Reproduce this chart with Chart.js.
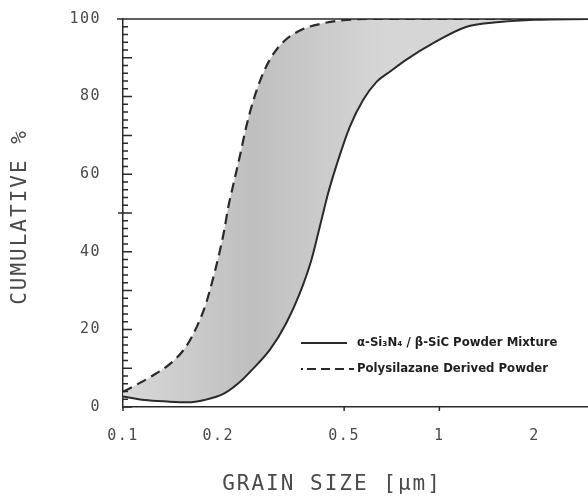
<!DOCTYPE html>
<html>
<head>
<meta charset="utf-8">
<script src="https://cdn.jsdelivr.net/npm/chart.js@4.4.1/dist/chart.umd.min.js"></script>
<style>
  body { margin: 0; background: #fff; }
  #wrap { width: 588px; height: 499px; }
</style>
</head>
<body>
<div id="wrap"><canvas id="grainChart" width="588" height="499"></canvas></div>
<script>
// grain size [um] and cumulative %
var dashX = [0.1, 0.1224, 0.1417, 0.158, 0.172, 0.183, 0.192, 0.201, 0.209, 0.215, 0.223, 0.234, 0.245, 0.258, 0.274, 0.294, 0.324, 0.371, 0.429, 0.484, 0.6, 1, 2, 2.95];
var dashY = [3.9, 7.8, 11.3, 15.5, 21.1, 26.7, 32.7, 39.2, 45.6, 51.4, 57.2, 64.6, 72.1, 78.9, 85.0, 90.1, 94.4, 97.4, 98.9, 99.6, 100, 100, 100, 100];
var solidX = [0.1, 0.117, 0.138, 0.16, 0.181, 0.209, 0.236, 0.251, 0.291, 0.328, 0.362, 0.394, 0.419, 0.445, 0.479, 0.521, 0.574, 0.633, 0.697, 0.789, 0.953, 1.22, 1.55, 2.0, 2.95];
var solidY = [2.7, 1.8, 1.4, 1.2, 1.8, 3.5, 6.7, 8.9, 14.7, 21.6, 29.3, 37.9, 46.5, 55.1, 63.7, 72.2, 79.1, 83.8, 86.4, 89.6, 93.7, 98, 99.2, 99.8, 100];
var xTicks = [0.1, 0.2, 0.5, 1, 2];
var xTickLabels = ["0.1", "0.2", "0.5", "1", "2"];
var yTicks = [0, 20, 40, 60, 80, 100];
var seriesNames = ["Polysilazane Derived Powder", "\u03b1-Si\u2083N\u2084 / \u03b2-SiC Powder Mixture"];

function toPoints(xs, ys) {
    return xs.map(function (x, i) { return { x: x, y: ys[i] }; });
}

var ink = "#2a2a2a";
var textGray = "#4a4a4a";

// plotter style ticks, frame, axis titles and the legend
var framePlugin = {
    id: 'frame',
    beforeDraw: function (chart) {
        chart.ctx.save();
        chart.ctx.letterSpacing = "1.5px";
    },
    afterDraw: function (chart) {
        var ctx = chart.ctx;
        var a = chart.chartArea;
        var ys = chart.scales.y, xs = chart.scales.x;
        ctx.restore();
        ctx.save();
        ctx.strokeStyle = ink;
        ctx.lineWidth = 1.5;
        ctx.beginPath();
        ctx.moveTo(a.left - 6, a.top);
        ctx.lineTo(a.right, a.top);
        for (var v = 0; v <= 100; v += 2) {
            var py = ys.getPixelForValue(v);
            var len = (v % 10 === 0) ? 9 : 5;
            ctx.moveTo(v === 50 ? a.left - 5 : a.left, py);
            ctx.lineTo(a.left + len, py);
        }
        [0.1, 0.5, 1].forEach(function (t) {
            var px = xs.getPixelForValue(t);
            ctx.moveTo(px, a.bottom);
            ctx.lineTo(px, a.bottom + 4);
        });
        ctx.stroke();

        // axis titles
        ctx.fillStyle = textGray;
        ctx.font = "21px 'DejaVu Sans Mono'";
        ctx.letterSpacing = "2px";
        ctx.textAlign = "center";
        ctx.textBaseline = "middle";
        ctx.fillText("GRAIN SIZE [\u03bcm]", 332, 485);
        ctx.save();
        ctx.translate(21, 217);
        ctx.rotate(-Math.PI / 2);
        ctx.fillText("CUMULATIVE %", 0, 0);
        ctx.restore();

        // legend
        ctx.letterSpacing = "0px";
        ctx.textAlign = "left";
        ctx.fillStyle = "#1e1e1e";
        ctx.font = "bold 13px 'DejaVu Sans Condensed', 'Liberation Sans', sans-serif";
        ctx.lineWidth = 1.8;
        ctx.beginPath();
        ctx.moveTo(301, 343);
        ctx.lineTo(347, 343);
        ctx.stroke();
        ctx.fillText(seriesNames[1], 357, 343);
        ctx.setLineDash([9, 5]);
        ctx.beginPath();
        ctx.moveTo(307, 369);
        ctx.lineTo(354, 369);
        ctx.stroke();
        ctx.setLineDash([]);
        ctx.fillRect(301, 368, 2, 2);
        ctx.fillText(seriesNames[0], 357, 369);
        ctx.restore();
    }
};

var shade = function (context) {
    var chart = context.chart;
    var a = chart.chartArea;
    if (!a) return "#c8c8c8";
    var g = chart.ctx.createLinearGradient(a.left, 0, a.left + 260, 0);
    g.addColorStop(0, "#d8d8d8");
    g.addColorStop(0.5, "#bfbfbf");
    g.addColorStop(1, "#d6d6d6");
    return g;
};

var myContext = document.getElementById("grainChart").getContext('2d');
var myChart = new Chart(myContext, {
    type: 'line',
    data: {
        datasets: [{
            label: seriesNames[0],
            data: toPoints(dashX, dashY),
            borderColor: ink,
            borderWidth: 2.2,
            borderDash: [10, 6],
            pointRadius: 0,
            fill: false,
            cubicInterpolationMode: 'monotone'
        }, {
            label: seriesNames[1],
            data: toPoints(solidX, solidY),
            borderColor: ink,
            borderWidth: 2,
            pointRadius: 0,
            fill: '-1',
            backgroundColor: shade,
            cubicInterpolationMode: 'monotone'
        }]
    },
    options: {
        responsive: false,
        animation: false,
        layout: { padding: { top: 19, right: 0, left: 0, bottom: 0 } },
        plugins: {
            legend: { display: false },
            tooltip: { enabled: false }
        },
        scales: {
            x: {
                type: 'logarithmic',
                min: 0.1,
                max: 2.95,
                afterBuildTicks: function (axis) {
                    axis.ticks = xTicks.map(function (v) { return { value: v }; });
                },
                afterFit: function (axis) {
                    axis.height = 92;
                    axis.paddingLeft = 0;
                    axis.paddingRight = 0;
                },
                ticks: {
                    padding: 20,
                    color: textGray,
                    font: { family: 'DejaVu Sans Mono', size: 15 },
                    maxRotation: 0,
                    callback: function (value) {
                        var i = xTicks.indexOf(value);
                        return i >= 0 ? xTickLabels[i] : '';
                    }
                },
                grid: { display: false, drawTicks: false },
                border: { display: true, color: ink, width: 1.5 }
            },
            y: {
                min: 0,
                max: 100,
                afterBuildTicks: function (axis) {
                    axis.ticks = yTicks.map(function (v) { return { value: v }; });
                },
                afterFit: function (axis) {
                    axis.width = 123;
                    axis.paddingTop = 0;
                    axis.paddingBottom = 0;
                },
                ticks: {
                    padding: 22,
                    color: textGray,
                    font: { family: 'DejaVu Sans Mono', size: 15 }
                },
                grid: { display: false, drawTicks: false },
                border: { display: true, color: ink, width: 1.5 }
            }
        }
    },
    plugins: [framePlugin]
});
</script>
</body>
</html>
